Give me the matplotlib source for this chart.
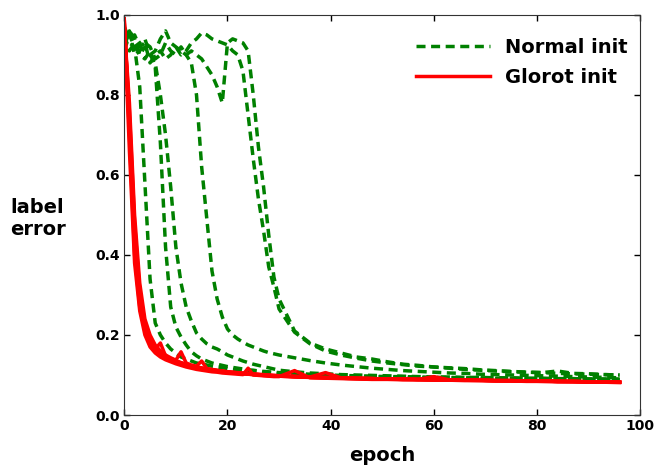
import matplotlib
matplotlib.use("Agg")
import matplotlib.pyplot as plt

# epochs where the error was logged (every epoch early on, every 3rd later)
epochs = list(range(0, 31)) + list(range(33, 97, 3))

# Normal init runs (green, dashed)
normal_1 = [0.96, 0.93, 0.92, 0.82, 0.58, 0.34, 0.23, 0.2, 0.18, 0.165, 0.155,
            0.145, 0.14, 0.135, 0.13, 0.128, 0.125, 0.122, 0.12, 0.118, 0.116,
            0.114, 0.113, 0.111, 0.11, 0.109, 0.108, 0.107, 0.106, 0.105, 0.104,
            0.102, 0.1, 0.099, 0.098, 0.097, 0.096, 0.095, 0.094, 0.094, 0.093, 0.093,
            0.092, 0.092, 0.091, 0.091, 0.09, 0.09, 0.09, 0.089, 0.089, 0.089, 0.088]
normal_2 = [0.93, 0.96, 0.94, 0.9, 0.89, 0.91, 0.87, 0.68, 0.42, 0.27, 0.22,
            0.195, 0.175, 0.158, 0.148, 0.14, 0.135, 0.13, 0.127, 0.124, 0.121,
            0.119, 0.117, 0.115, 0.113, 0.112, 0.11, 0.109, 0.108, 0.107, 0.106,
            0.104, 0.102, 0.1, 0.099, 0.098, 0.097, 0.096, 0.096, 0.095, 0.094, 0.094,
            0.093, 0.093, 0.092, 0.092, 0.091, 0.091, 0.09, 0.09, 0.09, 0.089, 0.089]
normal_3 = [0.91, 0.95, 0.92, 0.93, 0.94, 0.9, 0.88, 0.8, 0.7, 0.57, 0.42,
            0.33, 0.27, 0.235, 0.205, 0.19, 0.178, 0.17, 0.165, 0.158, 0.15,
            0.145, 0.14, 0.135, 0.131, 0.127, 0.124, 0.121, 0.118, 0.115, 0.112,
            0.108, 0.105, 0.103, 0.101, 0.1, 0.099, 0.098, 0.097, 0.096, 0.095, 0.095,
            0.094, 0.094, 0.093, 0.093, 0.092, 0.092, 0.091, 0.091, 0.09, 0.09, 0.09]
normal_4 = [0.95, 0.91, 0.93, 0.9, 0.92, 0.9, 0.91, 0.94, 0.96, 0.93, 0.92,
            0.91, 0.9, 0.88, 0.8, 0.62, 0.49, 0.36, 0.29, 0.245, 0.215,
            0.2, 0.19, 0.182, 0.175, 0.17, 0.165, 0.16, 0.156, 0.153, 0.15,
            0.143, 0.136, 0.13, 0.125, 0.121, 0.117, 0.114, 0.111, 0.109, 0.107, 0.105,
            0.104, 0.102, 0.101, 0.1, 0.099, 0.098, 0.097, 0.096, 0.095, 0.094, 0.093]
normal_5 = [0.97, 0.94, 0.95, 0.92, 0.93, 0.88, 0.9, 0.91, 0.89, 0.9, 0.92,
            0.9, 0.91, 0.93, 0.94, 0.955, 0.95, 0.94, 0.935, 0.93, 0.925,
            0.91, 0.9, 0.86, 0.75, 0.64, 0.54, 0.46, 0.37, 0.32, 0.265,
            0.207, 0.178, 0.16, 0.15, 0.142, 0.135, 0.13, 0.126, 0.122, 0.12, 0.117,
            0.114, 0.112, 0.11, 0.108, 0.107, 0.106, 0.104, 0.103, 0.102, 0.101, 0.1]
normal_6 = [0.92, 0.96, 0.9, 0.91, 0.93, 0.92, 0.89, 0.9, 0.93, 0.91, 0.9,
            0.92, 0.9, 0.91, 0.9, 0.89, 0.87, 0.85, 0.82, 0.78, 0.93,
            0.94, 0.935, 0.93, 0.91, 0.8, 0.67, 0.57, 0.45, 0.345, 0.29,
            0.21, 0.18, 0.165, 0.155, 0.145, 0.14, 0.133, 0.127, 0.124, 0.12, 0.118,
            0.116, 0.113, 0.111, 0.109, 0.107, 0.106, 0.11, 0.104, 0.103, 0.101, 0.1]

# Glorot init runs (red, solid)
glorot_1 = [0.99, 0.7, 0.4, 0.27, 0.21, 0.18, 0.16, 0.15, 0.142, 0.137, 0.132,
            0.128, 0.124, 0.12, 0.117, 0.115, 0.113, 0.111, 0.109, 0.108, 0.106,
            0.105, 0.104, 0.103, 0.102, 0.101, 0.1, 0.099, 0.098, 0.097, 0.097,
            0.095, 0.094, 0.093, 0.092, 0.091, 0.09, 0.09, 0.089, 0.088, 0.088, 0.087,
            0.087, 0.086, 0.086, 0.085, 0.085, 0.084, 0.084, 0.083, 0.083, 0.083, 0.082]
glorot_2 = [0.98, 0.74, 0.46, 0.3, 0.22, 0.19, 0.165, 0.18, 0.148, 0.14, 0.135,
            0.13, 0.126, 0.122, 0.119, 0.116, 0.114, 0.112, 0.11, 0.108, 0.107,
            0.105, 0.104, 0.103, 0.102, 0.101, 0.1, 0.099, 0.099, 0.098, 0.097,
            0.096, 0.094, 0.093, 0.092, 0.091, 0.091, 0.09, 0.089, 0.089, 0.088, 0.088,
            0.087, 0.087, 0.086, 0.086, 0.085, 0.085, 0.084, 0.084, 0.083, 0.083, 0.082]
glorot_3 = [0.97, 0.78, 0.5, 0.33, 0.24, 0.2, 0.175, 0.16, 0.15, 0.143, 0.137,
            0.158, 0.13, 0.125, 0.122, 0.135, 0.116, 0.114, 0.112, 0.11, 0.108,
            0.107, 0.106, 0.105, 0.104, 0.103, 0.102, 0.101, 0.1, 0.099, 0.098,
            0.097, 0.095, 0.094, 0.093, 0.092, 0.091, 0.09, 0.09, 0.089, 0.089, 0.088,
            0.087, 0.087, 0.086, 0.086, 0.085, 0.085, 0.084, 0.084, 0.083, 0.083, 0.082]
glorot_4 = [0.98, 0.66, 0.38, 0.26, 0.2, 0.17, 0.155, 0.145, 0.138, 0.133, 0.128,
            0.124, 0.12, 0.117, 0.114, 0.112, 0.11, 0.108, 0.107, 0.105, 0.104,
            0.103, 0.102, 0.101, 0.117, 0.1, 0.099, 0.098, 0.097, 0.096, 0.096,
            0.111, 0.093, 0.092, 0.091, 0.09, 0.089, 0.089, 0.088, 0.088, 0.087, 0.087,
            0.086, 0.086, 0.085, 0.085, 0.084, 0.084, 0.083, 0.083, 0.082, 0.082, 0.081]
glorot_5 = [0.99, 0.72, 0.43, 0.28, 0.215, 0.185, 0.165, 0.152, 0.145, 0.139, 0.134,
            0.13, 0.126, 0.123, 0.12, 0.117, 0.115, 0.113, 0.111, 0.109, 0.108,
            0.106, 0.105, 0.104, 0.103, 0.102, 0.101, 0.1, 0.099, 0.098, 0.098,
            0.096, 0.095, 0.106, 0.093, 0.092, 0.091, 0.09, 0.09, 0.089, 0.096, 0.088,
            0.087, 0.087, 0.086, 0.086, 0.085, 0.085, 0.084, 0.084, 0.083, 0.083, 0.082]
glorot_6 = [0.97, 0.76, 0.48, 0.31, 0.23, 0.195, 0.17, 0.157, 0.148, 0.141, 0.136,
            0.131, 0.127, 0.123, 0.12, 0.118, 0.115, 0.113, 0.111, 0.11, 0.108,
            0.107, 0.105, 0.104, 0.103, 0.102, 0.101, 0.1, 0.099, 0.099, 0.098,
            0.096, 0.095, 0.094, 0.093, 0.092, 0.091, 0.09, 0.09, 0.089, 0.088, 0.088,
            0.087, 0.087, 0.086, 0.086, 0.085, 0.085, 0.084, 0.084, 0.083, 0.083, 0.082]

normal_runs = [normal_1, normal_2, normal_3, normal_4, normal_5, normal_6]
glorot_runs = [glorot_1, glorot_2, glorot_3, glorot_4, glorot_5, glorot_6]

x_ticks = [0, 20, 40, 60, 80, 100]
y_ticks = [0.0, 0.2, 0.4, 0.6, 0.8, 1.0]

plt.rcParams["font.family"] = "DejaVu Sans"
plt.rcParams["font.weight"] = "bold"

fig = plt.figure(figsize=(6.54, 4.65), dpi=100)
ax = fig.add_axes([0.19, 0.1075, 0.789, 0.8605])

for i, run in enumerate(normal_runs):
    ax.plot(epochs, run, color="green", linestyle="--", dashes=(2.6, 1.6), linewidth=2.5,
            label="Normal init" if i == 0 else None)
for i, run in enumerate(glorot_runs):
    ax.plot(epochs, run, color="red", linewidth=2.5,
            label="Glorot init" if i == 0 else None)

ax.set_xlim(0, 100)
ax.set_ylim(0, 1.0)
ax.set_xticks(x_ticks)
ax.set_yticks(y_ticks)
ax.set_xticklabels([str(t) for t in x_ticks], fontsize=10, fontweight="bold")
ax.set_yticklabels(["%.1f" % t for t in y_ticks], fontsize=10, fontweight="bold")
ax.tick_params(direction="in", top=True, right=True, length=4, width=1, pad=3)
for s in ax.spines.values():
    s.set_color("#333333")

ax.set_xlabel("epoch", fontsize=14, fontweight="bold", va="center")
ax.xaxis.set_label_coords(0.5, -0.1)
ax.set_ylabel("label\nerror", fontsize=14, fontweight="bold", rotation=0,
              ha="center", va="center", multialignment="left")
ax.yaxis.set_label_coords(-0.167, 0.49)

leg = ax.legend(loc="upper right", bbox_to_anchor=(1.021, 1.0), frameon=False,
                handlelength=3.8, prop={"size": 14, "weight": "bold"},
                borderaxespad=0.8, labelspacing=0.55, handletextpad=0.8)

fig.savefig("out.png", dpi=100)
